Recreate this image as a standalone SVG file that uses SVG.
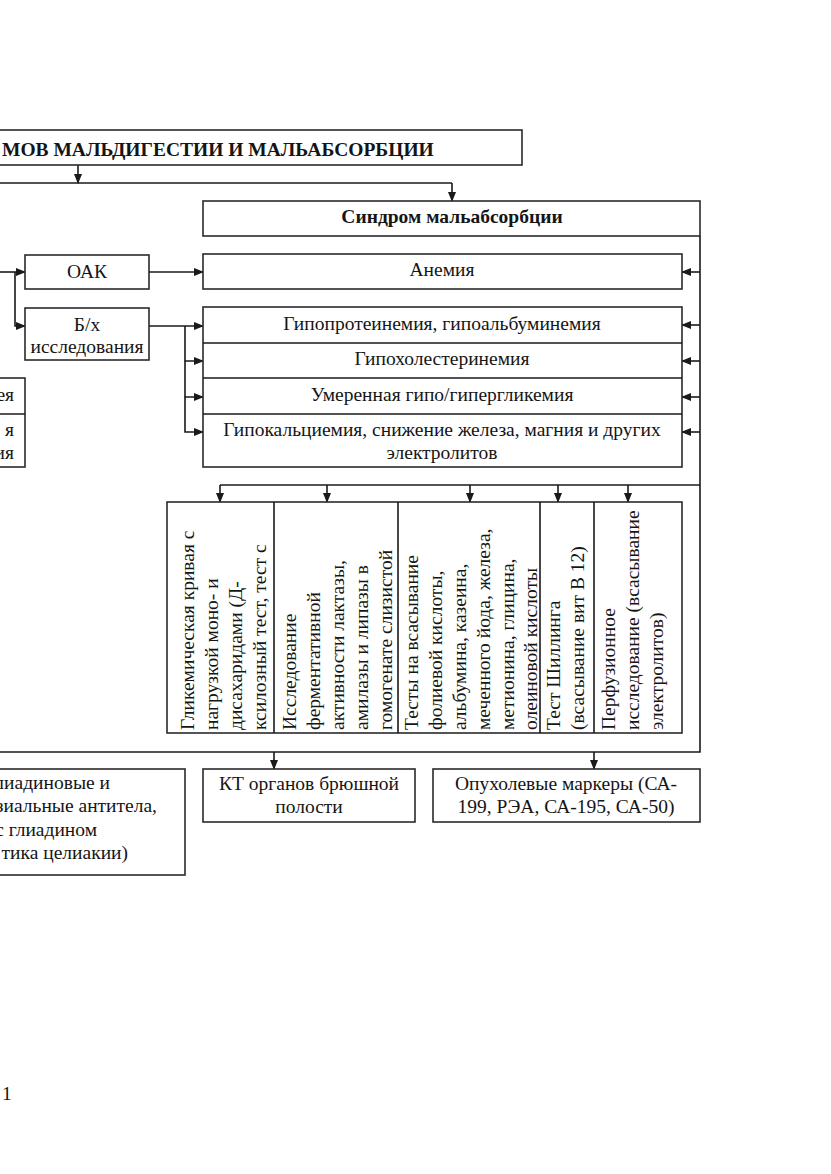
<svg xmlns="http://www.w3.org/2000/svg" width="831" height="1174" viewBox="0 0 831 1174">
<defs>
<marker id="ah" markerWidth="10" markerHeight="8" refX="9" refY="4" orient="auto" markerUnits="userSpaceOnUse">
<path d="M0,0 L10,4 L0,8 Z" fill="#1a1a1a"/>
</marker>
<style>
.b{fill:#fff;stroke:#2a2a2a;stroke-width:1.6}
.l{fill:none;stroke:#1a1a1a;stroke-width:1.6}
.a{fill:none;stroke:#1a1a1a;stroke-width:1.6;marker-end:url(#ah)}
text{font-family:"Liberation Serif","Times New Roman",serif;font-size:19.5px;fill:#151515}
.c{text-anchor:middle}
.bold{font-weight:bold}
</style>
</defs>
<rect width="831" height="1174" fill="#fff"/>

<g id="connectors">
<path class="a" d="M78,165 V183"/>
<path class="l" d="M0,183 H452"/>
<path class="a" d="M452,183 V201"/>
<path class="a" d="M0,272 H25"/>
<path class="a" d="M15,272 V326 H25"/>
<path class="a" d="M149,272 H203"/>
<path class="a" d="M149,326 H203"/>
<path class="a" d="M185,326 V361 H203"/>
<path class="a" d="M185,361 V397 H203"/>
<path class="a" d="M185,397 V432 H203"/>
<path class="l" d="M700,236 V752 H0"/>
<path class="a" d="M700,272 H682"/>
<path class="a" d="M700,325 H682"/>
<path class="a" d="M700,361 H682"/>
<path class="a" d="M700,397 H682"/>
<path class="a" d="M700,432 H682"/>
<path class="l" d="M220,485 H700"/>
<path class="a" d="M220,485 V502"/>
<path class="a" d="M327,485 V502"/>
<path class="a" d="M470,485 V502"/>
<path class="a" d="M558,485 V502"/>
<path class="a" d="M628,485 V502"/>
<path class="a" d="M274,752 V769"/>
<path class="a" d="M594,752 V769"/>
</g>

<g id="title">
<rect class="b" x="-10" y="130" width="532" height="35"/>
<text class="bold" x="2" y="156">МОВ МАЛЬДИГЕСТИИ И МАЛЬАБСОРБЦИИ</text>
</g>

<g id="syndrome">
<rect class="b" x="203" y="201" width="497" height="35"/>
<text class="c bold" x="452" y="223">Синдром мальабсорбции</text>
</g>

<g id="oak">
<rect class="b" x="25" y="255" width="124" height="34"/>
<text class="c" x="87" y="278">ОАК</text>
</g>

<g id="bh">
<rect class="b" x="25" y="308" width="124" height="52"/>
<text class="c" x="87" y="331">Б/х</text>
<text class="c" x="87" y="353">исследования</text>
</g>

<g id="left-partial">
<rect class="b" x="-10" y="378" width="35" height="89"/>
<path class="l" d="M-10,414 H25"/>
<text x="14" y="401" text-anchor="end">ея</text>
<text x="14" y="436" text-anchor="end">я</text>
<text x="14" y="459" text-anchor="end">ия</text>
</g>

<g id="anemia">
<rect class="b" x="203" y="254" width="479" height="35"/>
<text class="c" x="442" y="276">Анемия</text>
</g>

<g id="biochem-findings">
<rect class="b" x="203" y="307" width="479" height="160"/>
<path class="l" d="M203,343 H682 M203,378 H682 M203,414 H682"/>
<text class="c" x="442" y="330">Гипопротеинемия, гипоальбуминемия</text>
<text class="c" x="442" y="365">Гипохолестеринемия</text>
<text class="c" x="442" y="401">Умеренная гипо/гипергликемия</text>
<text class="c" x="442" y="436">Гипокальциемия, снижение железа, магния и других</text>
<text class="c" x="442" y="459">электролитов</text>
</g>

<g id="tests">
<rect class="b" x="167" y="502" width="515" height="231"/>
<path class="l" d="M274,502 V733 M398,502 V733 M540,502 V733 M594,502 V733"/>
<text transform="translate(194,730) rotate(-90)">Гликемическая кривая с</text>
<text transform="translate(218,730) rotate(-90)">нагрузкой моно- и</text>
<text transform="translate(242,730) rotate(-90)">дисахаридами (Д-</text>
<text transform="translate(266,730) rotate(-90)">ксилозный тест, тест с</text>
<text transform="translate(296,730) rotate(-90)">Исследование</text>
<text transform="translate(320,730) rotate(-90)">ферментативной</text>
<text transform="translate(344,730) rotate(-90)">активности лактазы,</text>
<text transform="translate(368,730) rotate(-90)">амилазы и липазы в</text>
<text transform="translate(392,730) rotate(-90)">гомогенате слизистой</text>
<text transform="translate(418,730) rotate(-90)">Тесты на всасывание</text>
<text transform="translate(442,730) rotate(-90)">фолиевой кислоты,</text>
<text transform="translate(466,730) rotate(-90)">альбумина, казеина,</text>
<text transform="translate(490,730) rotate(-90)">меченного йода, железа,</text>
<text transform="translate(514,730) rotate(-90)">метионина, глицина,</text>
<text transform="translate(537,730) rotate(-90)">олеиновой кислоты</text>
<text transform="translate(560,730) rotate(-90)">Тест Шиллинга</text>
<text transform="translate(584,730) rotate(-90)">(всасывание вит В 12)</text>
<text transform="translate(615,730) rotate(-90)">Перфузионное</text>
<text transform="translate(639,730) rotate(-90)">исследование (всасывание</text>
<text transform="translate(663,730) rotate(-90)">электролитов)</text>
</g>

<g id="antibodies">
<rect class="b" x="-10" y="769" width="195" height="106"/>
<text x="110" y="789" text-anchor="end">лиадиновые и</text>
<text x="157" y="812" text-anchor="end">зиальные антитела,</text>
<text x="97" y="836" text-anchor="end">с глиадином</text>
<text x="128" y="859" text-anchor="end">тика целиакии)</text>
</g>

<g id="ct">
<rect class="b" x="203" y="769" width="212" height="53"/>
<text class="c" x="309" y="790">КТ органов брюшной</text>
<text class="c" x="309" y="813">полости</text>
</g>

<g id="markers">
<rect class="b" x="433" y="769" width="267" height="53"/>
<text class="c" x="566" y="790">Опухолевые маркеры (СА-</text>
<text class="c" x="566" y="813">199, РЭА, СА-195, СА-50)</text>
</g>

<text x="2" y="1100">1</text>
</svg>
